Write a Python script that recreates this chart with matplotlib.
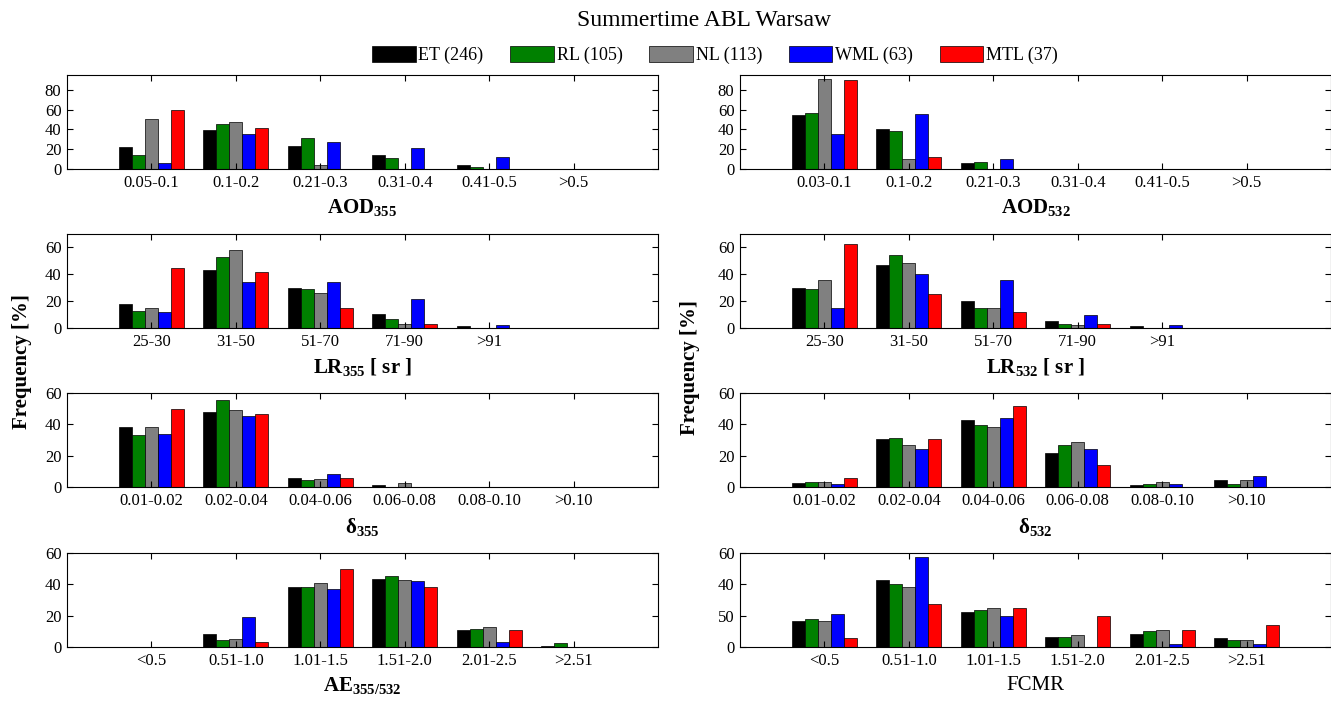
import numpy as np
import matplotlib
matplotlib.use('Agg')
import matplotlib.pyplot as plt
from matplotlib.patches import Patch

plt.rcParams['font.family'] = ['Liberation Serif', 'DejaVu Serif']
plt.rcParams['mathtext.fontset'] = 'custom'
plt.rcParams['mathtext.rm'] = 'Liberation Serif'
plt.rcParams['mathtext.bf'] = 'Liberation Serif:bold'
plt.rcParams['mathtext.it'] = 'Liberation Serif:italic'

'''data read off the figure, rows = ET, RL, NL, WML, MTL'''
series = ['ET (246)', 'RL (105)', 'NL (113)', 'WML (63)', 'MTL (37)']
colors = ['#000000', '#008000', '#808080', '#0000ff', '#ff0000']

cat_aod355 = ['0.05-0.1', '0.1-0.2', '0.21-0.3', '0.31-0.4', '0.41-0.5', '>0.5']
cat_aod532 = ['0.03-0.1', '0.1-0.2', '0.21-0.3', '0.31-0.4', '0.41-0.5', '>0.5']
cat_lr = ['25-30', '31-50', '51-70', '71-90', '>91']
cat_dep = ['0.01-0.02', '0.02-0.04', '0.04-0.06', '0.06-0.08', '0.08-0.10', '>0.10']
cat_ae = ['<0.5', '0.51-1.0', '1.01-1.5', '1.51-2.0', '2.01-2.5', '>2.51']

aod355 = [[22, 39, 23.5, 14.5, 4, 0],
          [14.5, 45.5, 31, 11, 1.7, 0],
          [50.5, 48, 4, 0, 0, 0],
          [6.5, 35, 27.5, 21, 12, 0],
          [60, 41.5, 0, 0, 0, 0]]
aod532 = [[55, 40, 6.5, 0, 0, 0],
          [57, 38, 7.5, 0, 0, 0],
          [91, 10.5, 0, 0, 0, 0],
          [35, 56, 10.5, 0, 0, 0],
          [89.5, 12, 0, 0, 0, 0]]
lr355 = [[17.5, 43.5, 30, 10.5, 1.2],
         [12.5, 53, 29, 6.8, 0],
         [14.7, 58, 26, 3.2, 0],
         [11.7, 34, 34, 21.3, 2.2],
         [44.5, 41.5, 14.8, 3.2, 0]]
lr532 = [[29.8, 47, 20.4, 5, 1.2],
         [28.8, 54.6, 14.6, 3.2, 0],
         [35.5, 48.7, 14.6, 2, 0],
         [14.6, 40.4, 35.5, 9.8, 2.2],
         [62.3, 25, 11.8, 3.2, 0]]
dep355 = [[38, 48, 5.7, 1.1, 0, 0],
          [33, 55.5, 4.3, 0, 0, 0],
          [38, 49, 4.9, 2.8, 0, 0],
          [34, 45.3, 8.3, 0, 0, 0],
          [49.8, 46.4, 5.7, 0, 0, 0]]
dep532 = [[2.6, 30.4, 43, 21.4, 1.1, 4.3],
          [3.4, 31.3, 39.6, 26.6, 1.9, 1.9],
          [3.4, 26.5, 38, 28.9, 3.4, 4.3],
          [1.9, 24, 43.8, 24, 1.9, 6.8],
          [5.7, 30.4, 52, 14, 0, 0]]
ae = [[0, 8.3, 38.5, 43.6, 10.8, 0.9],
      [0, 4.2, 38.5, 45.2, 11.7, 2.5],
      [0, 5, 41, 43, 12.5, 0],
      [0, 19.3, 37, 42, 3.5, 0],
      [0, 3.5, 49.5, 38.5, 10.8, 0]]
fcmr = [[16.7, 42.7, 22.4, 6.7, 8.3, 5.8],
        [17.6, 40, 23.3, 6.7, 10.2, 4.4],
        [16.7, 38.5, 25, 7.6, 10.8, 4.4],
        [21, 57.7, 19.5, 0, 1.6, 1.6],
        [5.8, 27.6, 25, 19.5, 10.8, 14.2]]

panels = [
    (aod355, cat_aod355, r'AOD$_{\mathbf{355}}$', 95, [0, 20, 40, 60, 80], None, 'bold'),
    (aod532, cat_aod532, r'AOD$_{\mathbf{532}}$', 95, [0, 20, 40, 60, 80], None, 'bold'),
    (lr355, cat_lr, r'LR$_{\mathbf{355}}$ [ sr ]', 70, [0, 20, 40, 60], None, 'bold'),
    (lr532, cat_lr, r'LR$_{\mathbf{532}}$ [ sr ]', 70, [0, 20, 40, 60], None, 'bold'),
    (dep355, cat_dep, r'δ$_{\mathbf{355}}$', 60, [0, 20, 40, 60], None, 'bold'),
    (dep532, cat_dep, r'δ$_{\mathbf{532}}$', 60, [0, 20, 40, 60], None, 'bold'),
    (ae, cat_ae, r'AE$_{\mathbf{355/532}}$', 60, [0, 20, 40, 60], None, 'bold'),
    (fcmr, cat_ae, 'FCMR', 60, [0, 20, 40, 60], ['0', '50', '40', '60'], 'normal'),
]

W, H = 1331, 704
fig = plt.figure(figsize=(W / 100, H / 100), dpi=100)

lefts = [67, 740]
tops = [75, 234, 393, 553]
ax_w, ax_h = 591, 94
bw = 0.154

for k, (data, cats, xlab, ymax, yt, ytl, fw) in enumerate(panels):
    row, col = k // 2, k % 2
    ax = fig.add_axes([lefts[col] / W, 1 - (tops[row] + ax_h) / H, ax_w / W, ax_h / H])
    x = np.arange(1, len(cats) + 1)
    for i in range(5):
        ax.bar(x + (i - 2) * bw, data[i], bw, color=colors[i], edgecolor='k', linewidth=0.5)
    ax.set_xlim(0, 7)
    ax.set_ylim(0, ymax)
    ax.set_xticks(x)
    ax.set_xticklabels(cats)
    ax.set_yticks(yt)
    if ytl is not None:
        ax.set_yticklabels(ytl)
    ax.tick_params(direction='in', top=True, right=True, length=4, width=0.8,
                   labelsize=12, pad=4)
    for s in ax.spines.values():
        s.set_linewidth(0.8)
    ax.set_xlabel(xlab, fontsize=15, fontweight=fw, labelpad=5)

fig.text(704 / W, 1 - 20 / H, 'Summertime ABL Warsaw', ha='center', va='center', fontsize=17)
fig.text(22 / W, 1 - 362 / H, 'Frequency [%]', rotation=90, ha='center', va='center',
         fontsize=15, fontweight='bold')
fig.text(690 / W, 1 - 368 / H, 'Frequency [%]', rotation=90, ha='center', va='center',
         fontsize=15, fontweight='bold')

handles = [Patch(facecolor=c, edgecolor='k', linewidth=0.5) for c in colors]
fig.legend(handles, series, loc='center', bbox_to_anchor=(715 / W, 1 - 55 / H), ncol=5,
           frameon=False, fontsize=13, handlelength=2.4, handleheight=1.0,
           handletextpad=0.15, columnspacing=1.5)

fig.savefig('out.png', dpi=100)
